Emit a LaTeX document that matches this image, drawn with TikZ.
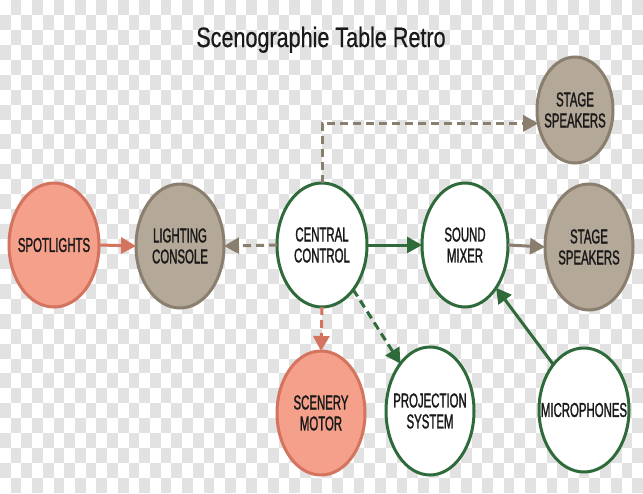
\documentclass[tikz,border=0pt]{standalone}
\usepackage{fontspec}
\setmainfont{Liberation Sans}
\newfontfamily\titlefont[FakeStretch=0.77,FakeBold=0.6]{Liberation Sans}
\newfontfamily\nodefont[FakeStretch=0.57,FakeBold=1.4]{Liberation Sans}
\usetikzlibrary{shapes.geometric,arrows.meta}
\definecolor{checkgray}{HTML}{E2E2E2}
\definecolor{salmonfill}{HTML}{F5A08B}
\definecolor{salmonline}{HTML}{D4735E}
\definecolor{tanfill}{HTML}{B4A898}
\definecolor{tanline}{HTML}{8A7E6F}
\definecolor{darkgreen}{HTML}{2F6A3A}
\definecolor{inktext}{HTML}{1A1A1A}
\tikzset{
  blob/.style={ellipse, line width=3pt, inner sep=0pt, outer sep=0pt,
    label={[inktext, font=\nodefont\fontsize{20}{21}\selectfont, align=center]center:#1}},
  hot/.style={blob=#1, draw=salmonline, fill=salmonfill},
  neutral/.style={blob=#1, draw=tanline, fill=tanfill},
  core/.style={blob=#1, draw=darkgreen, fill=white},
  conn/.style={line width=3pt, -{Triangle[length=15pt,width=16pt]}},
  dashconn/.style={conn, dash pattern=on 8pt off 5pt},
}
\begin{document}
\begin{tikzpicture}[x=1pt,y=-1pt]
\useasboundingbox (0,0) rectangle (643,493);
% checkerboard background
\fill[white] (0,0) rectangle (643,493);
\foreach \j in {0,2,...,32}{
  \foreach \i in {1,3,...,59}{
    \fill[checkgray] (\i*10.7167,\j*14.9394) rectangle ({(\i+1)*10.7167},{(\j+1)*14.9394});
  }
}
\foreach \j in {1,3,...,31}{
  \foreach \i in {0,2,...,58}{
    \fill[checkgray] (\i*10.7167,\j*14.9394) rectangle ({(\i+1)*10.7167},{(\j+1)*14.9394});
  }
}
% title
\node[anchor=base, inktext, font=\titlefont\fontsize{28}{32}\selectfont] (title) at (321,47) {Scenographie Table Retro};
% nodes
\node[hot={SPOTLIGHTS}, minimum width=90pt, minimum height=124pt] (spot) at (54,245) {};
\node[neutral={LIGHTING\\CONSOLE}, minimum width=88pt, minimum height=124pt] (light) at (180,246) {};
\node[core={CENTRAL\\CONTROL}, minimum width=90pt, minimum height=124pt] (central) at (322,245) {};
\node[core={SOUND\\MIXER}, minimum width=86pt, minimum height=124pt] (mixer) at (465,245) {};
\node[neutral={STAGE\\SPEAKERS}, minimum width=88pt, minimum height=126pt] (spk2) at (589,247) {};
\node[neutral={STAGE\\SPEAKERS}, minimum width=76pt, minimum height=106pt] (spk1) at (575,110) {};
\node[hot={SCENERY\\MOTOR}, minimum width=88pt, minimum height=124pt] (scenery) at (321,413) {};
\node[core={PROJECTION\\SYSTEM}, minimum width=88pt, minimum height=128pt] (proj) at (430,411) {};
\node[core={MICROPHONES}, minimum width=90pt, minimum height=124pt] (mic) at (584,410) {};
% connectors
\draw[conn, salmonline] (spot.east) -- (light.west);
\draw[dashconn, tanline] (central.west) -- (light.east);
\draw[conn, darkgreen] (central.east) -- (mixer.west);
\draw[conn, tanline] (mixer.east) -- (spk2.west);
\draw[dashconn, tanline] (central.north) |- (spk1.200);
\draw[dashconn, salmonline] (central.south) -- (scenery.north);
\draw[dashconn, darkgreen] (central.-55) -- (proj.122);
\draw[conn, darkgreen] (mic.124) -- (mixer.-54);
\end{tikzpicture}
\end{document}
